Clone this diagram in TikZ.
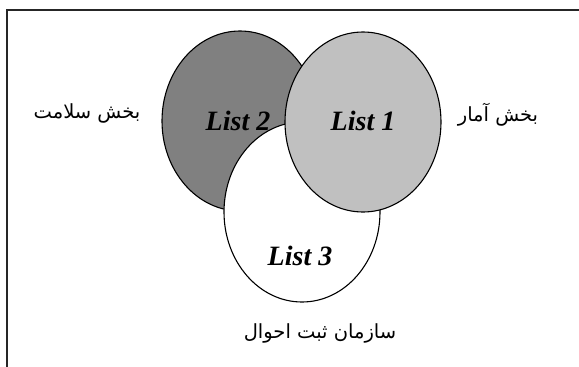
\documentclass[tikz,border=0pt]{standalone}
\usepackage{fontspec}
\setmainfont{Liberation Serif}
\newfontfamily\arabicfont[Script=Arabic]{DejaVu Sans}
\usetikzlibrary{shapes.geometric}
\TeXXeTstate=1
\tikzset{
  venn/.style={ellipse, draw=black, line width=1.1pt, minimum width=156pt, minimum height=180pt, inner sep=0pt},
  listlabel/.style={font=\fontsize{28}{31}\selectfont\bfseries\itshape, inner sep=0pt},
  fa/.style={font=\arabicfont\fontsize{19.5}{23}\selectfont, inner sep=0pt},
  frame/.style={line width=1.6pt, black!85}
}
\begin{document}
\begin{tikzpicture}[x=1pt, y=-1pt]
\useasboundingbox (0,0) rectangle (579,367);
\coordinate (fr) at (579,10);
\coordinate (fc) at (7,10);
\coordinate (fb) at (7,367);
\draw[frame] (fr) -- (fc) -- (fb);
\node[venn, fill={rgb,255:red,128;green,128;blue,128}] (e2) at (240,121) {};
\node[venn, fill=white] (e3) at (302,212) {};
\node[venn, fill={rgb,255:red,192;green,192;blue,192}] (e1) at (363,122) {};
\node[listlabel] (l2) at (238,121) {List 2};
\node[listlabel] (l1) at (363,121) {List 1};
\node[listlabel] (l3) at (300,256) {List 3};
\node[fa] (t2) at (87,113) {\beginR بخش سلامت\endR};
\node[fa] (t1) at (498,115) {\beginR بخش آمار\endR};
\node[fa] (t3) at (320,333) {\beginR سازمان ثبت احوال\endR};
\end{tikzpicture}
\end{document}
